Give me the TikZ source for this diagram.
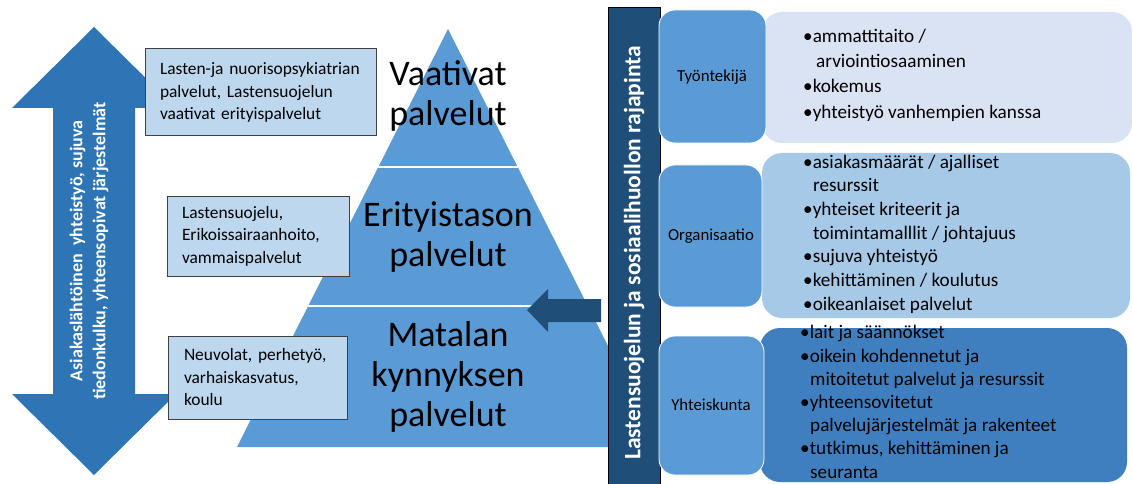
\documentclass[tikz,border=0pt]{standalone}
\usepackage{fontspec}
\setmainfont{Carlito}
\usetikzlibrary{calc}
\definecolor{arrowblue}{HTML}{2E75B6}
\definecolor{pyrblue}{HTML}{5B9BD5}
\definecolor{lboxfill}{HTML}{BDD7EE}
\definecolor{lboxline}{HTML}{404040}
\definecolor{barblue}{HTML}{1F4E79}
\definecolor{catblue}{HTML}{5B9BD5}
\definecolor{done}{HTML}{DAE3F3}
\definecolor{dtwo}{HTML}{A6C9E8}
\definecolor{dthree}{HTML}{3F7FBF}
\newcommand{\ci}{\hspace*{10pt}}
\begin{document}
\begin{tikzpicture}[x=1pt,y=-1pt,
  lbox/.style={draw=lboxline, line width=1pt, fill=lboxfill, align=left,
    inner xsep=15pt, inner ysep=0pt, font=\fontsize{17.4}{22.5}\selectfont},
  pyrtext/.style={align=center, font=\fontsize{36}{40}\selectfont},
  catbox/.style={draw=white, line width=0.8pt, fill=catblue, rounded corners=16pt},
  cattext/.style={font=\fontsize{16.8}{20}\selectfont},
  detbox/.style={rounded corners=20pt},
  dettext/.style={anchor=west, align=left, inner sep=0pt},
  vtext/.style={text=white, rotate=90, align=center, font=\bfseries}
]
\fill[white] (0,0) rectangle (1133,484);
\useasboundingbox (0,0) rectangle (1133,484);

% double arrow
\fill[arrowblue] (94,27) -- (176,108) -- (135,108) -- (135,394) -- (176,394)
  -- (94,475) -- (12,394) -- (53,394) -- (53,108) -- (12,108) -- cycle;
\node[vtext, font=\bfseries\fontsize{18}{23}\selectfont] (dtxt) at (89,251)
  {Asiakaslähtöinen\ \ yhteistyö, sujuva\\tiedonkulku, yhteensopivat järjestelmät};

% pyramid
\coordinate (apex) at (448,29);
\coordinate (bl) at (237,447);
\coordinate (br) at (659,447);
\fill[pyrblue] (apex) -- (bl) -- (br) -- cycle;
\draw[white, line width=1.5pt] ($(apex)!0.3301!(bl)$) -- ($(apex)!0.3301!(br)$);
\draw[white, line width=1.5pt] ($(apex)!0.6627!(bl)$) -- ($(apex)!0.6627!(br)$);
\node[pyrtext] (p1) at (448,96) {Vaativat\\palvelut};
\node[pyrtext] (p2) at (448,237) {Erityistason\\palvelut};
\node[pyrtext] (p3) at (448,377) {Matalan\\kynnyksen\\palvelut};

% left boxes
\node[lbox, minimum height=87pt, text width=201pt] (b1) at (260.5,92.5)
  {Lasten-ja nuorisopsykiatrian\\palvelut, Lastensuojelun\\vaativat erityispalvelut};
\node[lbox, minimum height=80pt, text width=152pt] (b2) at (258,236)
  {Lastensuojelu,\\Erikoissairaanhoito,\\vammaispalvelut};
\node[lbox, minimum height=83pt, text width=147pt, inner xsep=16pt] (b3) at (257.5,377.5)
  {Neuvolat, perhetyö,\\varhaiskasvatus,\\koulu};

% small dark arrow
\fill[barblue] (527,310) -- (548,289) -- (548,299) -- (601,299) -- (601,322)
  -- (548,322) -- (548,332) -- cycle;

% vertical bar
\node[draw=black, line width=0.8pt, fill=barblue, minimum width=52pt, minimum height=480pt,
  inner sep=0pt] (bar) at (634,247) {};
\node[vtext, font=\bfseries\fontsize{23.5}{26}\selectfont] (bartxt) at (634,253)
  {Lastensuojelun ja sosiaalihuollon rajapinta};

% detail boxes
\fill[done, detbox] (762,12) rectangle (1132,143);
\fill[dtwo, detbox] (762,153) rectangle (1130,318);
\fill[dthree, detbox] (760,328) rectangle (1127,482);

% category boxes
\draw[catbox] (659,10) rectangle (766,143);
\draw[catbox] (659,165) rectangle (762,307);
\draw[catbox] (659,336) rectangle (764,475);
\node[cattext] (c1) at (712,77) {Työntekijä};
\node[cattext] (c2) at (711,236) {Organisaatio};
\node[cattext] (c3) at (711,405) {Yhteiskunta};

% detail texts
\node[dettext, font=\fontsize{19.2}{25.3}\selectfont] (t1) at (803,75)
  {•ammattitaito /\\\hspace*{13pt}arviointiosaaminen\\•kokemus\\•yhteistyö vanhempien kanssa};
\node[dettext, font=\fontsize{19.2}{23.7}\selectfont] (t2) at (803,234)
  {•asiakasmäärät / ajalliset\\\ci resurssit\\•yhteiset kriteerit ja\\\ci toimintamalllit / johtajuus\\•sujuva yhteistyö\\•kehittäminen / koulutus\\•oikeanlaiset palvelut};
\node[dettext, font=\fontsize{19.2}{23.2}\selectfont] (t3) at (800,402)
  {•lait ja säännökset\\•oikein kohdennetut ja\\\ci mitoitetut palvelut ja resurssit\\•yhteensovitetut\\\ci palvelujärjestelmät ja rakenteet\\•tutkimus, kehittäminen ja\\\ci seuranta};
\end{tikzpicture}
\end{document}
